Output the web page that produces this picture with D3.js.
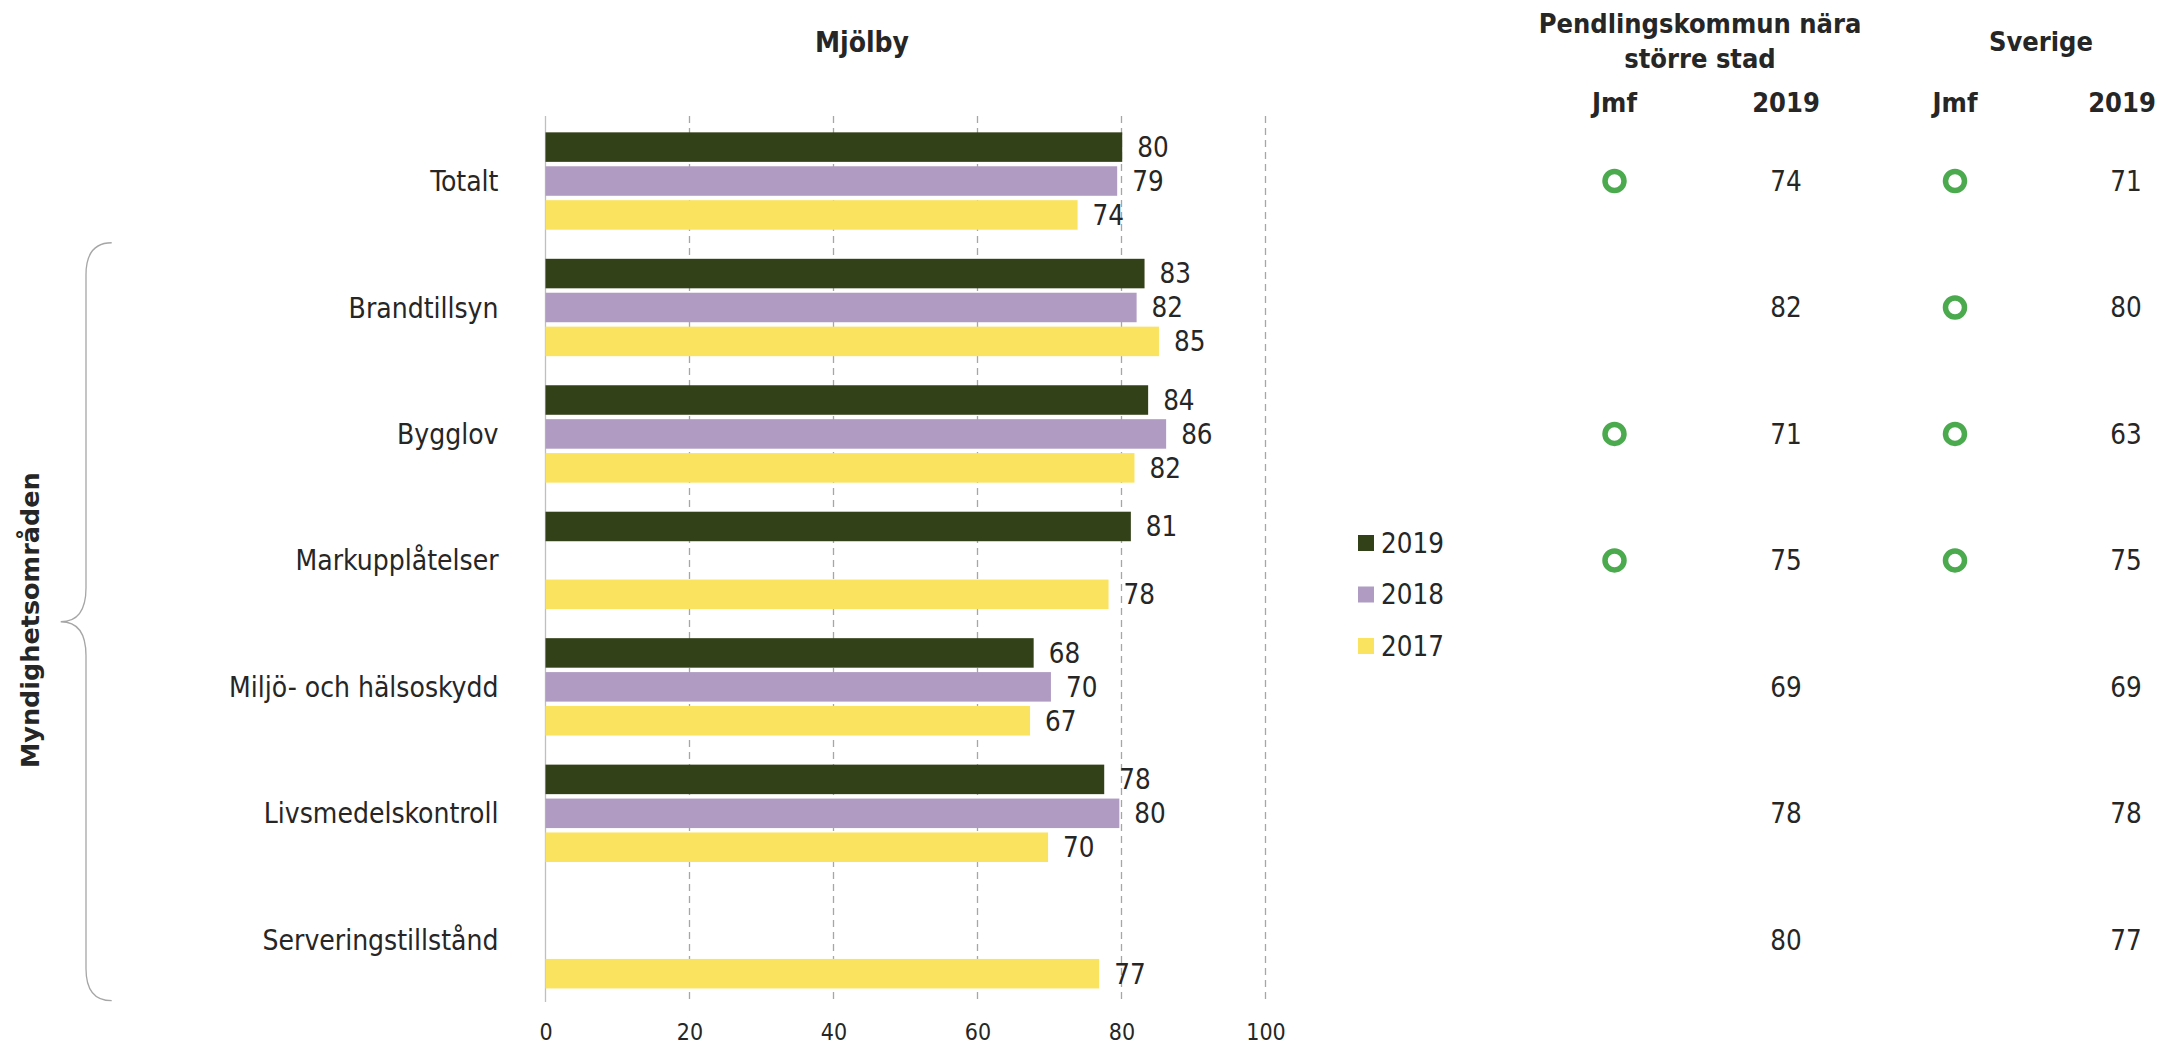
<!DOCTYPE html>
<html>
<head>
<meta charset="utf-8">
<script src="https://cdn.jsdelivr.net/npm/d3@7"></script>
<style>
  html, body { margin: 0; padding: 0; background: #fff; }
  svg { display: block; }
  .t { font-family: "DejaVu Sans Condensed", "DejaVu Sans", sans-serif; font-stretch: condensed; fill: #262626; }
  .b { font-weight: bold; }
</style>
</head>
<body>
<svg id="chart" width="2159" height="1045"></svg>
<script>
const categories = ["Totalt", "Brandtillsyn", "Bygglov", "Markupplåtelser", "Miljö- och hälsoskydd", "Livsmedelskontroll", "Serveringstillstånd"];
const series = ["2019", "2018", "2017"];
const values2019 = [80.1, 83.2, 83.7, 81.3, 67.8, 77.6, null];
const values2018 = [79.4, 82.1, 86.2, null, 70.2, 79.7, null];
const values2017 = [73.9, 85.2, 81.8, 78.2, 67.3, 69.8, 76.9];
const pendlingJmf = [true, false, true, true, false, false, false];
const pendling2019 = [74, 82, 71, 75, 69, 78, 80];
const sverigeJmf = [true, true, true, true, false, false, false];
const sverige2019 = [71, 80, 63, 75, 69, 78, 77];
const xTicks = [0, 20, 40, 60, 80, 100];
const colors = ["#334118", "#B09CC2", "#FAE35E"];

const seriesValues = [values2019, values2018, values2017];

const svg = d3.select("#chart");

const x = d3.scaleLinear().domain([0, 100]).range([545.5, 1265.5]);
const y = d3.scaleBand().domain(categories).range([117.8, 1003]).paddingInner(0.23).paddingOuter(0.115);
const yInner = d3.scaleBand().domain(series).range([0, y.bandwidth()]).paddingInner(0.13);

// gridlines
const gTop = 116, gBot = 1002;
svg.append("g").selectAll("line").data(xTicks).join("line")
  .attr("x1", d => x(d)).attr("x2", d => x(d))
  .attr("y1", gTop).attr("y2", gBot)
  .attr("stroke", d => d === 0 ? "#BFBFBF" : "#A6A6A6")
  .attr("stroke-width", 1.3)
  .attr("stroke-dasharray", d => d === 0 ? null : "7,5");

// x axis tick labels
const xAxis = d3.axisBottom(x).tickValues(xTicks).tickSize(0).tickPadding(0);
const ax = svg.append("g").attr("transform", `translate(0,${1032})`).call(xAxis);
ax.select(".domain").remove();
ax.selectAll("text").attr("class", "t").attr("dy", "0.36em").attr("y", 0)
  .style("font-size", "23px");

// bars
const rows = [];
categories.forEach((c, i) => {
  series.forEach((s, j) => {
    const v = seriesValues[j][i];
    if (v != null) rows.push({ c, s, v, j });
  });
});

const bars = svg.append("g");
bars.selectAll("rect").data(rows).join("rect")
  .attr("x", x(0))
  .attr("y", d => y(d.c) + yInner(d.s))
  .attr("width", d => x(d.v) - x(0))
  .attr("height", yInner.bandwidth())
  .attr("fill", d => colors[d.j]);

bars.selectAll("text").data(rows).join("text")
  .attr("class", "t")
  .attr("x", d => x(d.v) + 15)
  .attr("y", d => y(d.c) + yInner(d.s) + yInner.bandwidth() / 2)
  .attr("dy", "0.36em")
  .style("font-size", "27.5px")
  .text(d => Math.round(d.v));

// category labels
svg.append("g").selectAll("text").data(categories).join("text")
  .attr("class", "t")
  .attr("x", 498.5)
  .attr("y", d => y(d) + y.bandwidth() / 2)
  .attr("dy", "0.36em")
  .attr("text-anchor", "end")
  .style("font-size", "28px")
  .text(d => d);

// title
svg.append("text").attr("class", "t b").attr("x", 862).attr("y", 42).attr("dy", "0.36em")
  .attr("text-anchor", "middle").style("font-size", "28px").text("Mjölby");

// right headers
const colPJ = 1614.5, colP19 = 1786, colSJ = 1955, colS19 = 2126;
svg.append("text").attr("class", "t b").attr("x", 1700).attr("y", 23).attr("dy", "0.36em")
  .attr("text-anchor", "middle").style("font-size", "27px").text("Pendlingskommun nära");
svg.append("text").attr("class", "t b").attr("x", 1700).attr("y", 58).attr("dy", "0.36em")
  .attr("text-anchor", "middle").style("font-size", "27px").text("större stad");
svg.append("text").attr("class", "t b").attr("x", 2041).attr("y", 41).attr("dy", "0.36em")
  .attr("text-anchor", "middle").style("font-size", "27px").text("Sverige");
[[colPJ, "Jmf"], [colP19, "2019"], [colSJ, "Jmf"], [colS19 - 4, "2019"]].forEach(([cx, t]) => {
  svg.append("text").attr("class", "t b").attr("x", cx).attr("y", 102).attr("dy", "0.36em")
    .attr("text-anchor", "middle").style("font-size", "27px").text(t);
});

// right columns: circles and values
const cy = d => y(d) + y.bandwidth() / 2;
const tbl = svg.append("g");
categories.forEach((c, i) => {
  if (pendlingJmf[i]) tbl.append("circle").attr("cx", colPJ).attr("cy", cy(c)).attr("r", 9.5)
    .attr("fill", "none").attr("stroke", "#4CAA4E").attr("stroke-width", 5.5);
  if (sverigeJmf[i]) tbl.append("circle").attr("cx", colSJ).attr("cy", cy(c)).attr("r", 9.5)
    .attr("fill", "none").attr("stroke", "#4CAA4E").attr("stroke-width", 5.5);
  tbl.append("text").attr("class", "t").attr("x", colP19).attr("y", cy(c)).attr("dy", "0.36em")
    .attr("text-anchor", "middle").style("font-size", "27.5px").text(pendling2019[i]);
  tbl.append("text").attr("class", "t").attr("x", colS19).attr("y", cy(c)).attr("dy", "0.36em")
    .attr("text-anchor", "middle").style("font-size", "27.5px").text(sverige2019[i]);
});

// legend
const legend = svg.append("g").attr("transform", "translate(1358,543)");
series.forEach((s, j) => {
  const g = legend.append("g").attr("transform", `translate(0,${j * 51.5})`);
  g.append("rect").attr("x", 0).attr("y", -8).attr("width", 16).attr("height", 16).attr("fill", colors[j]);
  g.append("text").attr("class", "t").attr("x", 23).attr("y", 0).attr("dy", "0.36em")
    .style("font-size", "27.5px").text(s);
});

// bracket
const bTop = y(categories[1]) - y.step() * y.paddingInner() / 2 - 1.5;
const bBot = 1000.7;
const bMid = (bTop + bBot) / 2;
const xr = 111.7, xv = 86, xt = 60.7;
const p = d3.path();
p.moveTo(xr, bTop);
p.quadraticCurveTo(xv, bTop, xv, bTop + 32);
p.lineTo(xv, bMid - 34);
p.quadraticCurveTo(xv, bMid, xt, bMid);
p.quadraticCurveTo(xv, bMid, xv, bMid + 34);
p.lineTo(xv, bBot - 32);
p.quadraticCurveTo(xv, bBot, xr, bBot);
svg.append("path").attr("d", p.toString()).attr("fill", "none").attr("stroke", "#A6A6A6").attr("stroke-width", 1.3);

// rotated group label
svg.append("text")
  .attr("transform", `translate(30,${bMid - 1.5}) rotate(-90)`)
  .attr("text-anchor", "middle").attr("dy", "0.36em")
  .style("font-family", "'DejaVu Sans', sans-serif").style("font-weight", "bold")
  .style("font-size", "25.5px").style("fill", "#262626")
  .text("Myndighetsområden");
</script>
</body>
</html>
